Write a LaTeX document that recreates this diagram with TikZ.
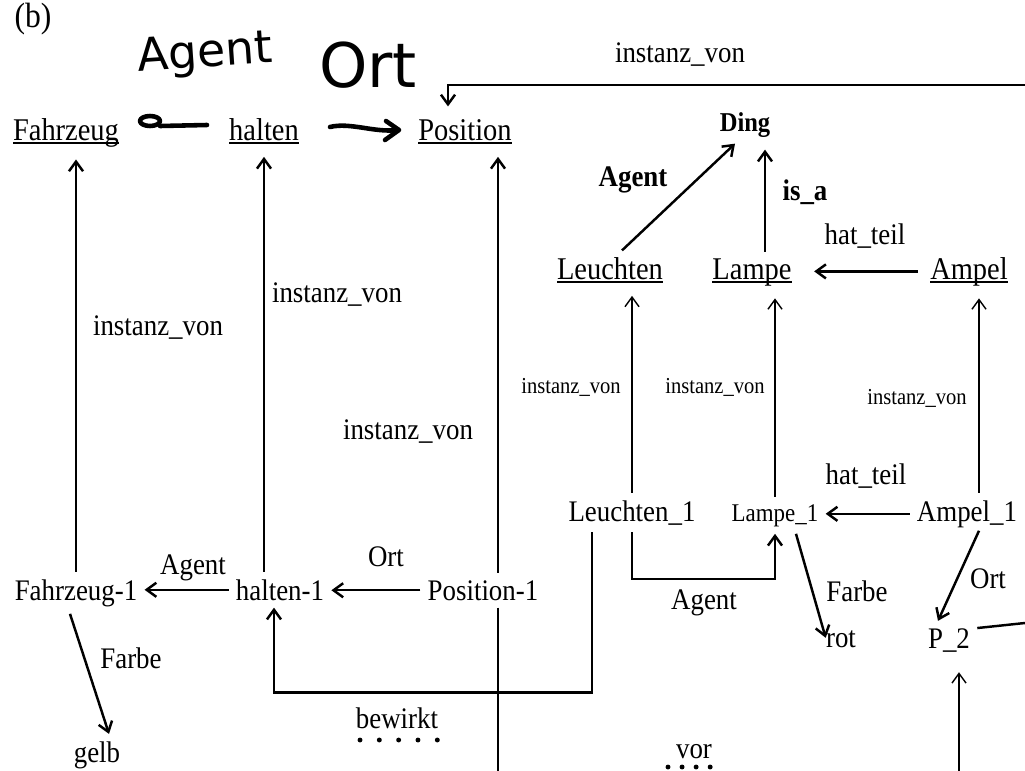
\documentclass[tikz,border=0pt]{standalone}
\usepackage{fontspec}
\setmainfont{Liberation Serif}[FakeStretch=0.9]
\newfontfamily\handfont{DejaVu Sans}
\usetikzlibrary{arrows.meta,calc}
\newcommand{\conc}[1]{\setbox0\hbox{#1}\rlap{\rule[-2.4pt]{\wd0}{1.1pt}}\box0}
\newcommand{\fsize}[1]{\fontsize{#1}{#1}\selectfont}
\tikzset {
  >={Straight Barb[length=5.5pt,width=8pt]},
  every node/.style={font=\fsize{17pt},inner sep=4pt},
  concept/.style={font=\fsize{18pt},anchor=base,inner sep=7pt},
  inst/.style={anchor=base},
  smalllbl/.style={font=\fsize{13pt}},
  strong/.style={font=\fsize{17pt}\bfseries},
  hand/.style={font=\handfont\fsize{#1}},
  thick line/.style={line width=1.4pt},
  thin line/.style={line width=0.8pt},
  scribble/.style={line width=2.6pt,line cap=round,line join=round},
  dots/.style={line width=2.8pt,line cap=round,dash pattern=on 0pt off #1},
}

\begin{document}
\begin{tikzpicture}[x=0.02cm,y=-0.02cm]
  \useasboundingbox (0,0) rectangle (1025,771);
  \node[anchor=base,font=\fsize{20pt},inner sep=0pt] (tag) at (33,27) {(b)};

  % scribbled roles
  \node[hand=26pt,rotate=4] (hwagent) at (205,55) {Agent};
  \node[hand=35pt] (hwort) at (368,65) {Ort};
  \draw[scribble] (150,121) ellipse[x radius=10,y radius=5];
  \draw[scribble] (160,126) -- (207,125);
  \draw[scribble] (330,127) .. controls (350,122) and (375,133) .. (398,130);
  \draw[scribble] (386,121) -- (399,130) -- (385,140);

  % concepts
  \node[concept] (fz) at (66,140) {\conc{Fahrzeug}};
  \node[concept] (hal) at (264,140) {\conc{halten}};
  \node[concept] (pos) at (465,140) {\conc{Position}};
  \node[anchor=base,font=\fsize{15.5pt}\bfseries,inner sep=7pt] (ding) at (745,131) {Ding};
  \node[concept] (leu) at (610,279) {\conc{Leuchten}};
  \node[concept] (lam) at (752,279) {\conc{Lampe}};
  \node[concept] (amp) at (969,279) {\conc{Ampel}};

  % instances
  \node[inst] (fz1) at (76,600) {Fahrzeug-1};
  \node[inst] (hal1) at (280,600) {halten-1};
  \node[inst] (pos1) at (483,600) {Position-1};
  \node[inst] (leu1) at (632,521) {Leuchten\_1};
  \node[inst,font=\fsize{14.5pt}] (lam1) at (775,521) {Lampe\_1};
  \node[inst] (amp1) at (967,521) {Ampel\_1};
  \node[inst] (rot) at (841,647) {rot};
  \node[inst] (p2) at (949,648) {P\_2};
  \node[inst] (gelb) at (97,762) {gelb};

  \coordinate (topright) at (1025,85);
  \coordinate (pright) at (1025,623);
  \coordinate (pbot) at (959,771);

  % instanz_von links
  \draw[->,thick line] (topright) -| ($(pos.north)+(-17,0)$);
  \draw[->,thick line] (fz1.north) -- (fz1.north |- fz.south);
  \draw[->,thick line] (hal.south |- hal1.north) -- (hal.south);
  \draw[->,thick line] ($(pos1.north)+(15,0)$) -- ($(pos1.north |- pos.south)+(15,0)$);
  \draw[thin line] ($(pos1.south)+(15,0)$) -- ++(0,170);
  \draw[->,thin line] (leu1.north) -- (leu1.north |- leu.south);
  \draw[->,thin line] (lam1.north) -- (lam1.north |- lam.south);
  \draw[->,thin line] ($(amp1.north)+(12,0)$) -- ($(amp1.north |- amp.south)+(12,0)$);

  \node (lbltop) at (680,55) {instanz\_von};
  \node (lblfz) at (158,328) {instanz\_von};
  \node (lblhal) at (337,295) {instanz\_von};
  \node (lblpos) at (408,432) {instanz\_von};
  \node[smalllbl] (lblleu) at (571,387) {instanz\_von};
  \node[smalllbl] (lbllam) at (715,387) {instanz\_von};
  \node[smalllbl] (lblamp) at (917,398) {instanz\_von};

  % concept level
  \draw[->,thick line] ($(leu.north)+(12,6)$) -- ($(ding.south)+(-10,-6)$);
  \draw[->,thick line] ($(lam.north)+(13,6)$) -- ($(lam.north |- ding.south)+(13,0)$);
  \draw[->,thick line] (amp.west) -- ($(amp.west -| lam.east)+(10,0)$);
  \node[strong] (lblagent) at (633,180) {Agent};
  \node[strong] (lblisa) at (805,192) {is\_a};
  \node (lblteil) at (865,236) {hat\_teil};

  % instance level
  \draw[->,thick line] (hal1.west) -- (hal1.west -| fz1.east);
  \draw[->,thick line] (pos1.west) -- (pos1.west -| hal1.east);
  \draw[->,thick line] ($(fz1.south)+(-6,0)$) -- ($(gelb.north)+(12,0)$);
  \draw[->,thick line] ($(leu1.south)+(-40,0)$) |- ($(hal1.south)+(-6,85)$) -- ($(hal1.south)+(-6,0)$);
  \draw[->,thick line] (leu1.south) -- ++(0,47) -| (lam1.south);
  \draw[->,thick line] (amp1.west) -- (amp1.west -| lam1.east);
  \draw[->,thick line] ($(lam1.south)+(21,0)$) -- ($(rot.north west)+(7,15)$);
  \draw[->,thick line] ($(amp1.south)+(12,-4)$) -- ($(p2.north)+(-11,0)$);
  \draw[thick line] ($(p2.east)+(0,-12)$) -- (pright);
  \draw[->,thin line] (pbot) -- ($(p2.south)+(10,13)$);

  \node (lblag1) at (193,568) {Agent};
  \node (lblort1) at (386,557) {Ort};
  \node (lblfarbe1) at (131,658) {Farbe};
  \node (lblbew) at (397,718) {bewirkt};
  \node (lblag2) at (704,603) {Agent};
  \node (lblteil2) at (866,476) {hat\_teil};
  \node (lblfarbe2) at (857,591) {Farbe};
  \node (lblort2) at (988,579) {Ort};
  \node (lblvor) at (694,752) {vor};
  \draw[dots=11pt] (360,740) -- (446,740);
  \draw[dots=8pt] (668,767) -- (713,767);
\end{tikzpicture}
\end{document}
